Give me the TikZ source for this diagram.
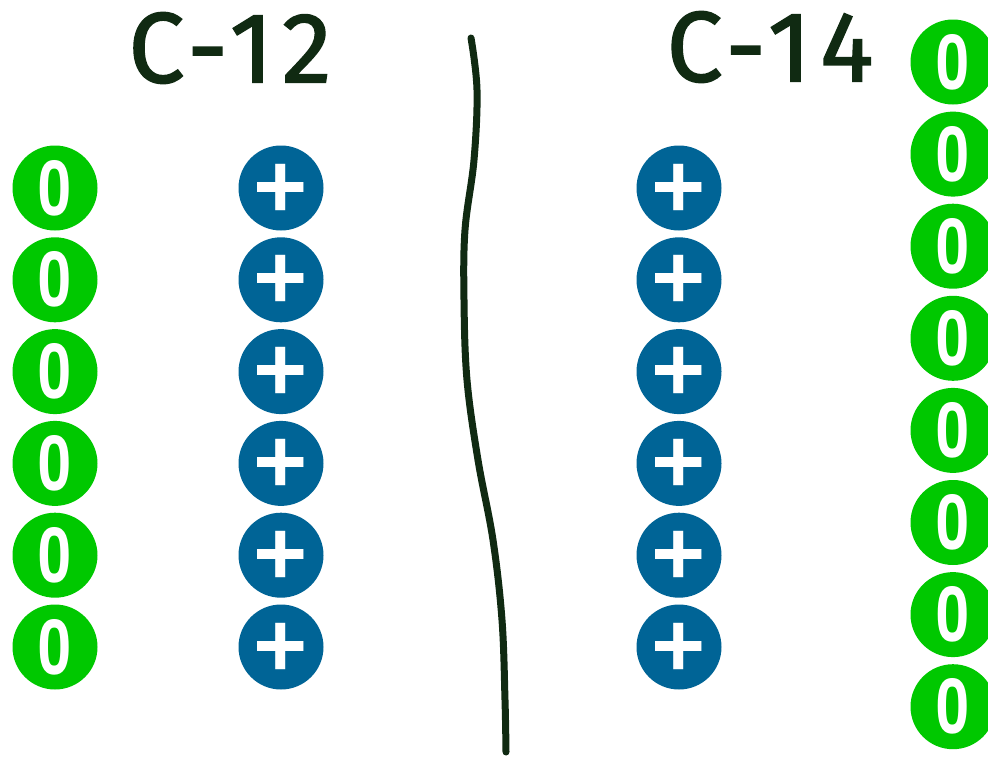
\documentclass[tikz,border=0pt]{standalone}
\usepackage{fontspec}
\setmainfont{Fira Sans}
\newfontfamily\symfont{TeX Gyre Heros}
\newfontfamily\labfont[LetterSpace=9,FakeBold=1.5]{Fira Sans}
\definecolor{zgreen}{RGB}{0,200,0}
\definecolor{pblue}{RGB}{0,100,150}
\definecolor{ink}{RGB}{16,42,18}
\newcommand{\narrowzero}{\scalebox{0.78}[1]{0}}
\tikzset{
  neutron/.style={circle, fill=zgreen, minimum size=85pt, inner sep=0pt, text=white,
    font=\symfont\bfseries\fontsize{76}{76}\selectfont},
  proton/.style={circle, fill=pblue, minimum size=85pt, inner sep=0pt, text=white,
    font=\symfont\bfseries\fontsize{100}{100}\selectfont},
  isolabel/.style={text=ink, inner sep=0pt, font=\labfont\fontsize{100}{100}\selectfont}
}
\begin{document}
\begin{tikzpicture}[x=1pt,y=-1pt]
\useasboundingbox (0,0) rectangle (988,761);
\clip (0,0) rectangle (988,761);
\fill[white] (0,0) rectangle (988,761);
% labels
\node[isolabel] (l12) at (230,48) {C-12};
\node[isolabel] (l14) at (770,47) {C-14};
% left columns: neutrons and protons of C-12, protons of C-14
\foreach \i in {0,...,5} {
  \node[neutron] (n12-\i) at (55,188+91.8*\i) {\narrowzero};
  \node[proton] (p12-\i) at (281,188+91.8*\i) {+};
  \node[proton] (p14-\i) at (679,188+91.8*\i) {+};
}
% right column: neutrons of C-14
\foreach \i in {0,...,7} {
  \node[neutron] (n14-\i) at (953,62+92.1*\i) {\narrowzero};
}
% dividing line
\draw[ink, line width=7pt, line cap=round, line join=round]
  plot[smooth, tension=0.6] coordinates {(471,38) (477,90) (474,160) (465,230) (464,300) (467,380) (478,460) (493,540) (502,620) (505,700) (506,752)};
\end{tikzpicture}
\end{document}
